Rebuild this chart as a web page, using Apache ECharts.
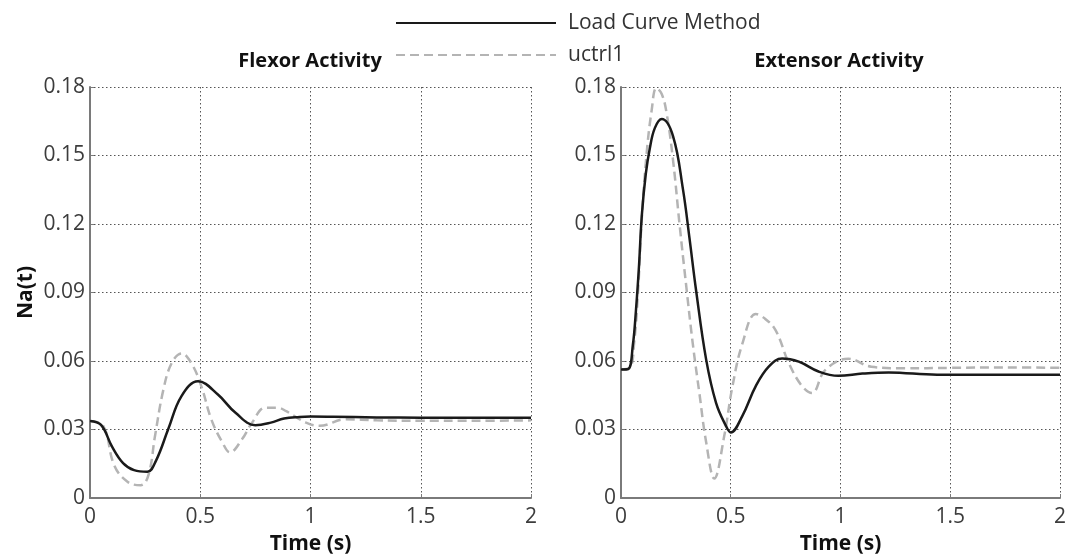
<!DOCTYPE html>
<html>
<head>
<meta charset="utf-8">
<title>Flexor / Extensor Activity</title>
<script src="https://cdn.jsdelivr.net/npm/echarts@6.0.0/dist/echarts.min.js"></script>
<style>
  html, body { margin: 0; padding: 0; background: #fff; }
  #chart { width: 1069px; height: 560px; }
</style>
</head>
<body>
<div id="chart"></div>
<script>
// 屈肌 (Flexor) - Load Curve Method
const flexLoadTime = [0, 0.05, 0.1, 0.15, 0.2, 0.26, 0.3, 0.355, 0.415, 0.49, 0.58, 0.66, 0.75, 0.82, 0.88, 0.95, 1.0, 1.1, 1.3, 1.5, 1.75, 2.0];
const flexLoad     = [0.0337, 0.032, 0.0225, 0.0153, 0.0122, 0.0115, 0.0165, 0.0302, 0.0446, 0.0511, 0.0453, 0.0373, 0.0319, 0.033, 0.0348, 0.0355, 0.0357, 0.0356, 0.0353, 0.0352, 0.0352, 0.0352];
// 屈肌 - uctrl1
const flexUctrlTime = [0, 0.06, 0.11, 0.17, 0.23, 0.265, 0.295, 0.333, 0.37, 0.415, 0.46, 0.505, 0.55, 0.6, 0.635, 0.69, 0.735, 0.795, 0.85, 0.89, 0.98, 1.04, 1.16, 1.3, 1.5, 1.75, 2.0];
const flexUctrl     = [0.0337, 0.0316, 0.0143, 0.0071, 0.0056, 0.01, 0.0273, 0.0475, 0.059, 0.0633, 0.059, 0.0489, 0.0345, 0.0244, 0.020, 0.0258, 0.033, 0.0395, 0.0395, 0.038, 0.033, 0.0316, 0.0345, 0.034, 0.0338, 0.0338, 0.034];

// 伸肌 (Extensor) - Load Curve Method
const extLoadTime = [0, 0.033, 0.054, 0.068, 0.081, 0.095, 0.113, 0.131, 0.154, 0.186, 0.237, 0.282, 0.312, 0.342, 0.388, 0.433, 0.478, 0.5, 0.553, 0.614, 0.674, 0.734, 0.81, 0.9, 0.99, 1.1, 1.22, 1.44, 1.7, 2.0];
const extLoad     = [0.0563, 0.0565, 0.067, 0.082, 0.100, 0.124, 0.142, 0.153, 0.162, 0.166, 0.1585, 0.1354, 0.1138, 0.091, 0.0606, 0.0417, 0.0316, 0.0287, 0.036, 0.049, 0.0576, 0.0611, 0.0597, 0.0554, 0.0535, 0.0545, 0.055, 0.054, 0.054, 0.054];
// 伸肌 - uctrl1
const extUctrlTime = [0, 0.04, 0.06, 0.078, 0.093, 0.116, 0.14, 0.161, 0.185, 0.207, 0.237, 0.267, 0.297, 0.327, 0.357, 0.388, 0.425, 0.47, 0.508, 0.553, 0.614, 0.65, 0.704, 0.765, 0.825, 0.87, 0.93, 1.036, 1.14, 1.29, 1.5, 1.75, 2.0];
const extUctrl     = [0.0563, 0.057, 0.068, 0.091, 0.1196, 0.150, 0.170, 0.1795, 0.177, 0.169, 0.148, 0.1196, 0.093, 0.0676, 0.046, 0.0244, 0.0085, 0.027, 0.049, 0.0676, 0.0806, 0.079, 0.0735, 0.059, 0.049, 0.046, 0.056, 0.061, 0.0575, 0.0568, 0.057, 0.0572, 0.057];

const seriesNames = ['Load Curve Method', 'uctrl1'];
const panelTitles = ['Flexor Activity', 'Extensor Activity'];

function pairs(ts, vs) {
    return ts.map((t, i) => [t, vs[i]]);
}

document.addEventListener('DOMContentLoaded', function() {
    const chart = echarts.init(document.getElementById('chart'));
    const font = '"Open Sans", sans-serif';
    const axisGray = '#7a7a7a';

    function xAxisFor(idx) {
        return {
            type: 'value', gridIndex: idx,
            min: 0, max: 2, interval: 0.5,
            name: 'Time (s)', nameLocation: 'middle', nameGap: 36,
            nameTextStyle: { fontFamily: font, fontSize: 21, fontWeight: 'bold', color: '#111' },
            axisLine: { show: true, onZero: false, lineStyle: { color: axisGray, width: 2 } },
            axisTick: { show: true, inside: true, length: 4, lineStyle: { color: axisGray } },
            axisLabel: { fontFamily: font, fontSize: 21, color: '#3c3c3c', margin: 9, formatter: v => String(v) },
            splitLine: { show: true, lineStyle: { color: '#555', width: 1, type: [1.5, 2.5] } }
        };
    }

    function yAxisFor(idx, name) {
        return {
            type: 'value', gridIndex: idx,
            min: 0, max: 0.18, interval: 0.03,
            name: name, nameLocation: 'middle', nameGap: 53,
            nameTextStyle: { fontFamily: font, fontSize: 21, fontWeight: 'bold', color: '#111' },
            axisLine: { show: true, onZero: false, lineStyle: { color: axisGray, width: 2 } },
            axisTick: { show: true, inside: true, length: 4, lineStyle: { color: axisGray } },
            axisLabel: { fontFamily: font, fontSize: 21, color: '#3c3c3c', margin: 5,
                formatter: v => v === 0 ? '0' : v.toFixed(2) },
            splitLine: { show: true, lineStyle: { color: '#555', width: 1, type: [1.5, 2.5] } }
        };
    }

    const blackLine = { color: '#1a1a1a', width: 2.5 };
    const grayLine = { color: '#b4b4b4', width: 2.5, type: [9, 5] };

    const option = {
        animation: false,
        backgroundColor: '#fff',
        title: [
            { text: panelTitles[0], left: 305, top: 46, textAlign: 'center',
              textStyle: { fontFamily: font, fontSize: 20, fontWeight: 'bold', color: '#111' } },
            { text: panelTitles[1], left: 834, top: 46, textAlign: 'center',
              textStyle: { fontFamily: font, fontSize: 20, fontWeight: 'bold', color: '#111' } }
        ],
        legend: {
            data: seriesNames,
            orient: 'vertical',
            left: 390, top: 6,
            itemWidth: 160, itemHeight: 14, itemGap: 8,
            itemStyle: { opacity: 0 },
            textStyle: { fontFamily: font, fontSize: 21, color: '#333', lineHeight: 24, padding: [0, 0, 0, 7] }
        },
        grid: [
            { left: 90, top: 87, width: 441, height: 416 },
            { left: 621, top: 87, width: 442, height: 416 }
        ],
        xAxis: [xAxisFor(0), xAxisFor(1)],
        yAxis: [yAxisFor(0, 'Na(t)'), yAxisFor(1, '')],
        series: [
            { name: seriesNames[1], type: 'line', xAxisIndex: 0, yAxisIndex: 0, symbol: 'none', smooth: 0.4,
              color: '#b4b4b4', lineStyle: grayLine, data: pairs(flexUctrlTime, flexUctrl) },
            { name: seriesNames[1], type: 'line', xAxisIndex: 1, yAxisIndex: 1, symbol: 'none', smooth: 0.4,
              color: '#b4b4b4', lineStyle: grayLine, data: pairs(extUctrlTime, extUctrl) },
            { name: seriesNames[0], type: 'line', xAxisIndex: 0, yAxisIndex: 0, symbol: 'none', smooth: 0.4,
              color: '#1a1a1a', lineStyle: blackLine, data: pairs(flexLoadTime, flexLoad) },
            { name: seriesNames[0], type: 'line', xAxisIndex: 1, yAxisIndex: 1, symbol: 'none', smooth: 0.4,
              color: '#1a1a1a', lineStyle: blackLine, data: pairs(extLoadTime, extLoad) }
        ]
    };
    chart.setOption(option);
    window.addEventListener('resize', () => chart.resize());
});
</script>
</body>
</html>
